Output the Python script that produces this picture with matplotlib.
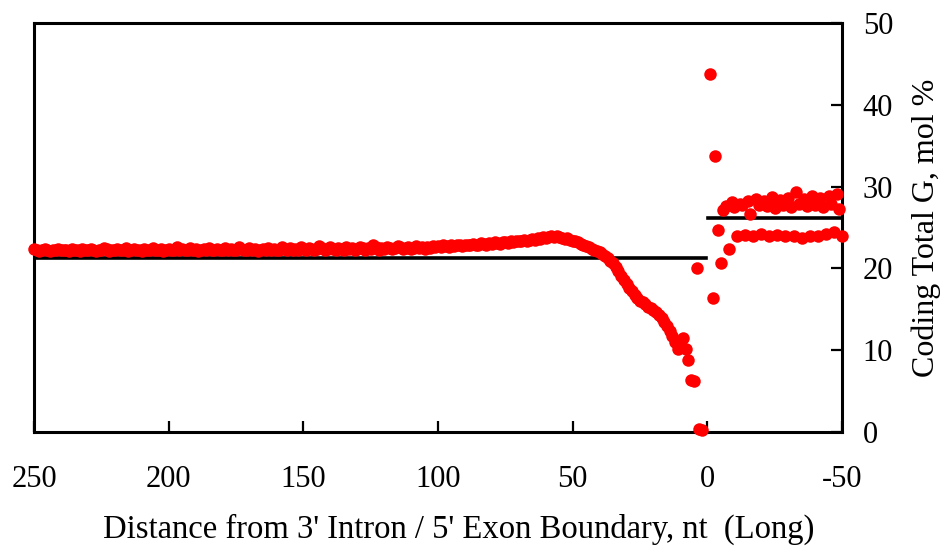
import numpy as np
import matplotlib
matplotlib.use('Agg')
import matplotlib.pyplot as plt

plt.rcParams['font.family'] = ['Liberation Serif', 'DejaVu Serif']
plt.rcParams['axes.unicode_minus'] = False

# intron side, positions 2..250 upstream of the boundary
intron_pos = np.arange(2, 251)
intron_g = [
    0.3, 0.4, 20.0, 6.2, 6.3, 8.8, 10.2, 11.5, 10.8, 10.1,
    11.0, 11.7, 12.3, 12.9, 13.5, 13.9, 14.3, 14.7, 14.9, 15.1,
    15.3, 15.6, 15.9, 16.0, 16.4, 16.8, 17.2, 17.6, 18.1, 18.6,
    19.1, 19.7, 20.2, 20.6, 20.9, 21.3, 21.5, 21.8, 22.0, 22.1,
    22.3, 22.4, 22.6, 22.7, 22.9, 23.0, 23.2, 23.3, 23.4, 23.5,
    23.7, 23.6, 23.7, 23.8, 23.9, 23.8, 23.9, 23.8, 23.7, 23.8,
    23.6, 23.7, 23.5, 23.6, 23.5, 23.4, 23.5, 23.3, 23.4, 23.3,
    23.2, 23.3, 23.1, 23.2, 23.2, 23.0, 23.1, 23.2, 23.0, 23.1,
    22.9, 23.0, 23.1, 22.9, 22.8, 23.0, 22.9, 22.8, 22.9, 22.7,
    22.8, 22.9, 22.7, 22.8, 22.6, 22.7, 22.8, 22.6, 22.7,
    22.6, 22.7, 22.5, 22.6, 22.4, 22.6, 22.5, 22.7, 22.5, 22.4,
    22.6, 22.5, 22.4, 22.6, 22.7, 22.5, 22.4, 22.5, 22.6, 22.4,
    22.5, 22.3, 22.6, 22.8, 22.4, 22.5, 22.3, 22.5, 22.6, 22.4,
    22.3, 22.5, 22.4, 22.6, 22.3, 22.4, 22.5, 22.3, 22.4, 22.6,
    22.4, 22.3, 22.5, 22.7, 22.4, 22.3, 22.4, 22.5, 22.3, 22.4,
    22.6, 22.3, 22.4, 22.2, 22.5, 22.3, 22.4, 22.6, 22.3, 22.2,
    22.4, 22.3, 22.5, 22.2, 22.4, 22.3, 22.1, 22.4, 22.3, 22.5,
    22.3, 22.2, 22.4, 22.6, 22.3, 22.2, 22.4, 22.3, 22.5, 22.2,
    22.3, 22.4, 22.2, 22.3, 22.5, 22.2, 22.4, 22.3, 22.1, 22.4,
    22.3, 22.5, 22.2, 22.3, 22.4, 22.2, 22.6, 22.3, 22.2, 22.4,
    22.3, 22.1, 22.4, 22.2, 22.3, 22.5, 22.2, 22.3, 22.4, 22.1,
    22.3, 22.2, 22.4, 22.3, 22.1, 22.5, 22.3, 22.2, 22.4, 22.2,
    22.3, 22.1, 22.4, 22.5, 22.2, 22.3, 22.1, 22.2, 22.4, 22.3,
    22.2, 22.4, 22.1, 22.3, 22.2, 22.4, 22.1, 22.3, 22.2, 22.3,
    22.4, 22.2, 22.3, 22.1, 22.2, 22.4, 22.3, 22.1, 22.2, 22.4,
]

# exon side, positions -1..-50
exon_pos = np.arange(-1, -51, -1)
exon_g = [
    43.8, 16.4, 33.8, 24.7, 20.7, 27.2, 27.6, 22.4, 28.1, 27.5,
    23.9, 27.9, 27.8, 24.1, 28.2, 26.6, 24.0, 28.5, 27.7, 24.2,
    28.3, 27.6, 24.0, 28.7, 27.4, 24.1, 28.4, 27.8, 24.0, 28.6,
    27.5, 23.9, 29.3, 27.9, 23.7, 28.5, 27.6, 23.9, 28.8, 27.8,
    24.0, 28.6, 27.5, 24.2, 28.9, 27.9, 24.4, 29.1, 27.3, 23.9,
]

# averages drawn as flat lines
intron_mean = 21.3
intron_span = [250, 0.5]
exon_mean = 26.2
exon_span = [-0.3, -50]

x_ticks = [250, 200, 150, 100, 50, 0, -50]
x_labels = ['250', '200', '150', '100', '50', '0', '-50']
y_ticks = [0, 10, 20, 30, 40, 50]

fig = plt.figure(figsize=(9.43, 5.5), dpi=100, facecolor='w')
ax = fig.add_axes([34 / 943, 1 - 432 / 550, 808 / 943, 409 / 550])

ax.plot(intron_span, [intron_mean, intron_mean], color='black', lw=2.6, zorder=2)
ax.plot(exon_span, [exon_mean, exon_mean], color='black', lw=2.6, zorder=2)
ax.plot(intron_pos, intron_g, 'o', color='#ff0000', ms=9, mew=0, zorder=3, clip_on=False)
ax.plot(exon_pos, exon_g, 'o', color='#ff0000', ms=9, mew=0, zorder=3, clip_on=False)

ax.set_xlim(250, -50)
ax.set_ylim(0, 50)
ax.set_xticks(x_ticks)
ax.set_xticklabels(x_labels)
ax.set_yticks(y_ticks)

ax.yaxis.tick_right()
ax.yaxis.set_label_position('right')
for s in ax.spines.values():
    s.set_linewidth(2.2)
ax.tick_params(axis='x', direction='in', length=8, width=1.6, pad=24, labelsize=22)
ax.tick_params(axis='y', direction='in', length=8, width=1.6, pad=15, labelsize=22)

ax.set_xlabel("Distance from 3' Intron / 5' Exon Boundary, nt  (Long)", fontsize=23.5)
ax.xaxis.set_label_coords(0.525, -0.2)
ax.set_ylabel('Coding Total G, mol %', fontsize=23, labelpad=13)

fig.savefig('out.png', dpi=100, facecolor='w')
